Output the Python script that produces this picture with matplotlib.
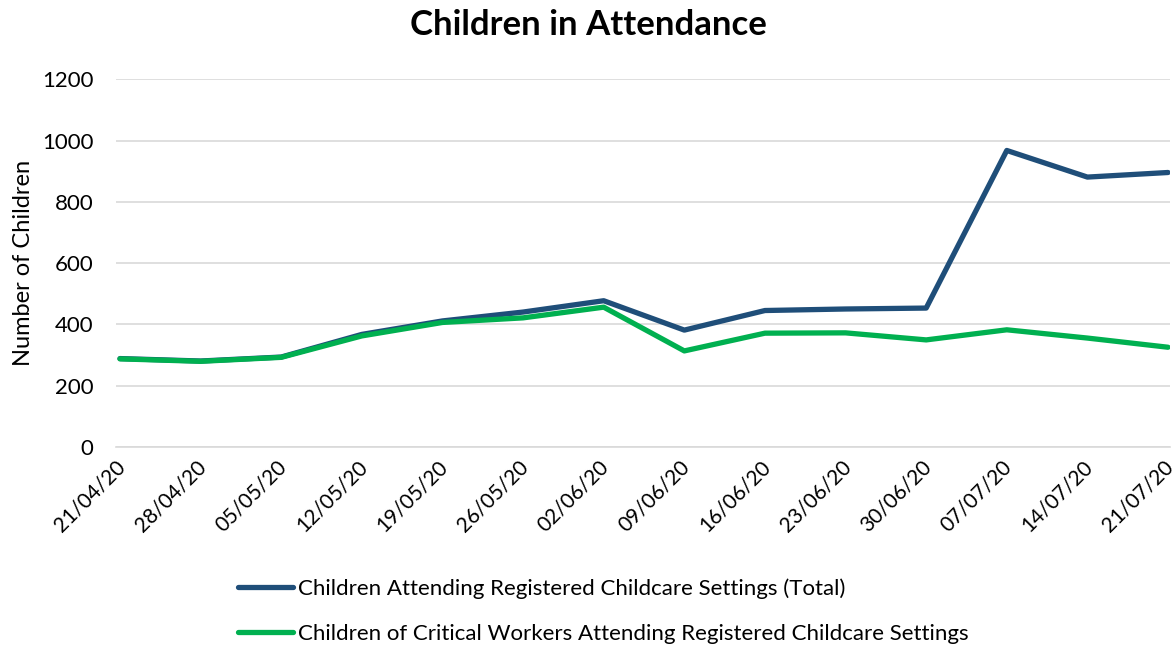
import numpy as np
import matplotlib.pyplot as plt
import matplotlib.transforms as mtransforms

# Data
weeks = ["21/04/20", "28/04/20", "05/05/20", "12/05/20", "19/05/20", "26/05/20",
         "02/06/20", "09/06/20", "16/06/20", "23/06/20", "30/06/20", "07/07/20",
         "14/07/20", "21/07/20"]
total = [288, 280, 293, 367, 411, 440, 477, 381, 445, 450, 453, 968, 881, 896]
critical = [287, 279, 292, 362, 406, 421, 456, 313, 371, 372, 349, 382, 355, 325]

plt.rcParams['font.family'] = ['Lato', 'DejaVu Sans']

fig = plt.figure(figsize=(11.76, 6.46), dpi=100)
ax = fig.add_axes([0.0986, 0.3085, 0.896, 0.5685])

x = np.arange(len(weeks))
ax.plot(x, total, color="#1F4E79", linewidth=3.8, solid_capstyle="round",
        solid_joinstyle="round",
        label="Children Attending Registered Childcare Settings (Total)")
ax.plot(x, critical, color="#00B050", linewidth=3.8, solid_capstyle="round",
        solid_joinstyle="round",
        label="Children of Critical Workers Attending Registered Childcare Settings")

ax.set_ylim(0, 1200)
ax.set_yticks(np.arange(0, 1201, 200))
ax.set_xlim(-0.05, len(weeks) - 1 + 0.02)
ax.set_xticks(x)
ax.set_xticklabels(weeks, rotation=45, ha="right", rotation_mode="anchor")

ax.grid(axis="y", color="#D9D9D9", linewidth=1.2)
ax.set_axisbelow(True)
for s in ax.spines.values():
    s.set_visible(False)
ax.spines["bottom"].set_visible(True)
ax.spines["bottom"].set_color("#D9D9D9")
ax.spines["bottom"].set_linewidth(1.2)
ax.tick_params(axis="y", length=0, labelsize=16, colors="black", pad=16)
ax.tick_params(axis="x", length=0, labelsize=15, colors="black", pad=7)

# nudge the rotated date labels a little left so the last one fits
shift = mtransforms.ScaledTranslation(-5 / 100, 0, fig.dpi_scale_trans)
for lbl in ax.get_xticklabels():
    lbl.set_transform(lbl.get_transform() + shift)

ax.set_ylabel("Number of Children", fontsize=17)
ax.yaxis.set_label_coords(-0.078, 0.5)
fig.text(0.5, 0.961, "Children in Attendance", ha="center", va="center",
         fontsize=25, fontweight="bold")

fig.legend(loc="upper left", bbox_to_anchor=(0.195, 0.118), ncol=1,
           frameon=False, fontsize=16, handlelength=2.45, handletextpad=0.25,
           labelspacing=1.1, borderaxespad=0)

fig.savefig("out.png", dpi=100)
